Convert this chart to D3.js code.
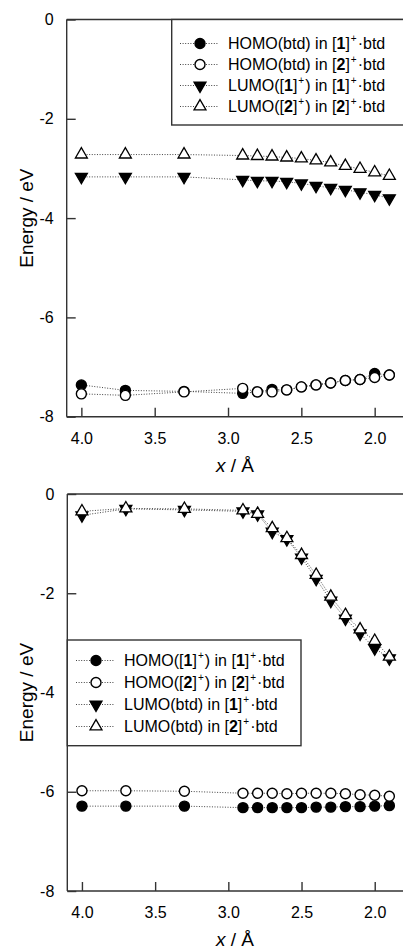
<!DOCTYPE html>
<html><head><meta charset="utf-8">
<script src="https://cdn.jsdelivr.net/npm/d3@7"></script>
<style>
html,body{margin:0;padding:0;background:#fff;}
svg{display:block;font-family:"Liberation Sans",Arial,sans-serif;}
</style></head>
<body>
<svg id="chart" width="403" height="949"></svg>
<script>
// ---------- data ----------
const xValues = [4.0, 3.7, 3.3, 2.9, 2.8, 2.7, 2.6, 2.5, 2.4, 2.3, 2.2, 2.1, 2.0, 1.9];
const xTicks = [4.0, 3.5, 3.0, 2.5, 2.0];
const yTicks = [0, -2, -4, -6, -8];

// top panel
const topHomo1 = [-7.36, -7.47, -7.49, -7.53, -7.50, -7.45, -7.46, -7.40, -7.36, -7.32, -7.27, -7.25, -7.13, -7.16];
const topHomo2 = [-7.54, -7.57, -7.50, -7.43, -7.50, -7.50, -7.46, -7.40, -7.36, -7.32, -7.27, -7.25, -7.21, -7.16];
const topLumo1 = [-3.17, -3.17, -3.17, -3.23, -3.25, -3.25, -3.27, -3.30, -3.35, -3.39, -3.43, -3.48, -3.53, -3.60];
const topLumo2 = [-2.72, -2.72, -2.72, -2.74, -2.75, -2.76, -2.78, -2.80, -2.84, -2.88, -2.95, -3.01, -3.08, -3.15];
const topLabels = [
  "HOMO(btd) in [**1**]^+^·btd",
  "HOMO(btd) in [**2**]^+^·btd",
  "LUMO([**1**]^+^) in [**1**]^+^·btd",
  "LUMO([**2**]^+^) in [**2**]^+^·btd"
];

// bottom panel
const botHomo1 = [-6.29, -6.29, -6.29, -6.32, -6.32, -6.32, -6.32, -6.32, -6.31, -6.31, -6.30, -6.30, -6.29, -6.28];
const botHomo2 = [-5.98, -5.98, -5.99, -6.03, -6.03, -6.03, -6.04, -6.03, -6.03, -6.03, -6.04, -6.06, -6.07, -6.09];
const botLumo1 = [-0.43, -0.30, -0.32, -0.35, -0.41, -0.76, -0.91, -1.28, -1.71, -2.15, -2.51, -2.81, -3.11, -3.31];
const botLumo2 = [-0.35, -0.29, -0.30, -0.33, -0.40, -0.69, -0.89, -1.23, -1.63, -2.07, -2.44, -2.73, -2.96, -3.28];
const botLabels = [
  "HOMO([**1**]^+^) in [**1**]^+^·btd",
  "HOMO([**2**]^+^) in [**2**]^+^·btd",
  "LUMO(btd) in [**1**]^+^·btd",
  "LUMO(btd) in [**2**]^+^·btd"
];

const yTitle = "Energy / eV";

// ---------- drawing ----------
const svg = d3.select("#chart");
const AXC = "#333";

function parseLabel(s){
  const parts = [];
  const re = /\*\*(.+?)\*\*|\^(.+?)\^|([^*^]+)/g;
  let m;
  while((m = re.exec(s))){
    if(m[1]) parts.push({t:m[1], k:"b"});
    else if(m[2]) parts.push({t:m[2], k:"sup"});
    else parts.push({t:m[3], k:""});
  }
  return parts;
}
function writeLabel(textSel, s){
  const parts = parseLabel(s);
  let raised = false;
  parts.forEach(p=>{
    const ts = textSel.append("tspan").text(p.t);
    if(p.k==="b") ts.attr("font-weight","bold");
    if(p.k==="sup"){ ts.attr("font-size",10).attr("dy",-7).attr("dx",1); raised = true; }
    else if(raised){ ts.attr("dy",7).attr("dx",1); raised = false; }
  });
}

function marker(g, type, x, y){
  const R = 5;
  if(type==="fc" || type==="oc"){
    g.append("circle").attr("cx",x).attr("cy",y).attr("r",R)
      .attr("fill", type==="fc" ? "#000" : "#fff")
      .attr("stroke","#000").attr("stroke-width",1.4);
  } else {
    const sym = d3.symbol().type(d3.symbolTriangle).size(62);
    g.append("path").attr("d", sym())
      .attr("transform", `translate(${x},${y})` + (type==="ft" ? " rotate(180)" : ""))
      .attr("fill", type==="ft" ? "#000" : "#fff")
      .attr("stroke","#000").attr("stroke-width",1.3);
  }
}

function panel(cfg){
  const x = d3.scaleLinear().domain([4.1, 1.8]).range([cfg.left, 404]);
  const y = d3.scaleLinear().domain([0, -8]).range([cfg.top, cfg.bottom]);
  const g = svg.append("g");

  // frame: top border line
  g.append("line").attr("x1",x.range()[0]).attr("x2",404)
    .attr("y1",cfg.top).attr("y2",cfg.top)
    .attr("stroke",AXC).attr("stroke-width",1.4);

  // axes
  const ax = d3.axisBottom(x).tickValues(xTicks).tickFormat(d3.format(".1f"))
    .tickSizeInner(-9).tickSizeOuter(0).tickPadding(16);
  const gx = g.append("g").attr("transform",`translate(0,${cfg.bottom})`).call(ax);
  const ay = d3.axisLeft(y).tickValues(yTicks).tickFormat(d3.format("d"))
    .tickSizeInner(-9).tickSizeOuter(0).tickPadding(13);
  const gy = g.append("g").attr("transform",`translate(${cfg.left},0)`).call(ay);
  [gx,gy].forEach(a=>{
    a.select(".domain").attr("stroke",AXC).attr("stroke-width",1.4);
    a.selectAll(".tick line").attr("stroke",AXC).attr("stroke-width",1.4);
    a.selectAll(".tick text").attr("font-size",16).attr("fill","#000")
      .attr("font-family",'"Liberation Sans",Arial,sans-serif');
  });
  gx.selectAll(".tick text").attr("dy","0.71em");
  gx.select(".domain").attr("d",`M${cfg.left},0H404`);
  gy.select(".domain").attr("d",`M0,${cfg.top}V${cfg.bottom}`);
  gy.selectAll(".tick text").text(d=> d===0 ? "0" : String(d).replace("−","-"));

  // titles
  g.append("text").attr("transform",`translate(33,${(cfg.top+cfg.bottom)/2}) rotate(-90)`)
    .attr("text-anchor","middle").attr("font-size",19).text(yTitle);
  const xt = g.append("text").attr("x",235).attr("y",cfg.xTitleY)
    .attr("text-anchor","middle").attr("font-size",19);
  xt.append("tspan").attr("font-style","italic").text("x");
  xt.append("tspan").text(" / Å");

  // series
  const line = d3.line().x(d=>x(d[0])).y(d=>y(d[1]));
  cfg.series.forEach(s=>{
    const pts = xValues.map((v,i)=>[v, s.values[i]]);
    g.append("path").attr("d", line(pts)).attr("fill","none")
      .attr("stroke","#444").attr("stroke-width",1).attr("stroke-dasharray","1,1.6");
  });
  cfg.series.forEach(s=>{
    xValues.forEach((v,i)=> marker(g, s.type, x(v), y(s.values[i])));
  });

  // legend
  const L = cfg.legend;
  g.append("rect").attr("x",L.x0).attr("y",L.y0).attr("width",L.x1-L.x0).attr("height",L.y1-L.y0)
    .attr("fill","#fff").attr("stroke",AXC).attr("stroke-width",1.4);
  cfg.series.forEach((s,i)=>{
    const yy = L.rowY + i*L.dy;
    g.append("line").attr("x1",L.sx-20).attr("x2",L.sx+19).attr("y1",yy).attr("y2",yy)
      .attr("stroke","#444").attr("stroke-width",1).attr("stroke-dasharray","1,1.6");
    marker(g, s.type, L.sx, yy);
    const t = g.append("text").attr("x",L.tx).attr("y",yy+5.5).attr("font-size",16);
    writeLabel(t, s.label);
  });
}

panel({
  left:66.7, top:19.5, bottom:416.7, xTitleY:472,
  series:[
    {values:topHomo1, type:"fc", label:topLabels[0]},
    {values:topHomo2, type:"oc", label:topLabels[1]},
    {values:topLumo1, type:"ft", label:topLabels[2]},
    {values:topLumo2, type:"ot", label:topLabels[3]}
  ],
  legend:{x0:171.7, y0:19.5, x1:404, y1:125, rowY:43.5, dy:21, sx:200, tx:228}
});

panel({
  left:67.3, top:494, bottom:891, xTitleY:946,
  series:[
    {values:botHomo1, type:"fc", label:botLabels[0]},
    {values:botHomo2, type:"oc", label:botLabels[1]},
    {values:botLumo1, type:"ft", label:botLabels[2]},
    {values:botLumo2, type:"ot", label:botLabels[3]}
  ],
  legend:{x0:67.3, y0:640, x1:301, y1:745.7, rowY:660.5, dy:22, sx:96, tx:124}
});
</script>
</body></html>
